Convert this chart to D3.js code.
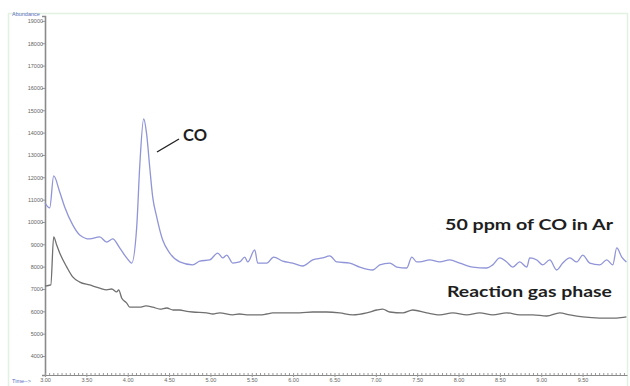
<!DOCTYPE html>
<html>
<head>
<meta charset="utf-8">
<script src="https://cdn.jsdelivr.net/npm/d3@7"></script>
<style>
  html, body { margin: 0; padding: 0; background: #fff; }
  svg { display: block; }
</style>
</head>
<body>
<svg id="chart" width="630" height="386"></svg>
<script>
// Retention time (min) and abundance for the 50 ppm CO in Ar standard
const coTime = [3.00, 3.057, 3.105, 3.178, 3.238, 3.335, 3.42, 3.54, 3.661, 3.746, 3.819, 3.903, 3.988, 4.048, 4.109, 4.145, 4.193, 4.23, 4.266, 4.302, 4.351, 4.423, 4.508, 4.629, 4.786, 4.871, 4.992, 5.088, 5.149, 5.197, 5.27, 5.354, 5.415, 5.451, 5.536, 5.572, 5.681, 5.765, 5.874, 5.995, 6.116, 6.237, 6.358, 6.443, 6.527, 6.685, 6.806, 6.963, 7.048, 7.169, 7.253, 7.374, 7.435, 7.495, 7.531, 7.652, 7.773, 7.894, 8.015, 8.172, 8.341, 8.414, 8.499, 8.583, 8.656, 8.74, 8.825, 8.861, 8.946, 9.018, 9.103, 9.187, 9.26, 9.345, 9.43, 9.502, 9.587, 9.708, 9.792, 9.865, 9.913, 9.974, 10.03];
const coAbundance = [10850, 10630, 12060, 11340, 10670, 9870, 9420, 9240, 9330, 9100, 9240, 8840, 8390, 8160, 9780, 12460, 14610, 13900, 12460, 11120, 10220, 9190, 8610, 8210, 8080, 8250, 8300, 8610, 8390, 8520, 8160, 8210, 8430, 8210, 8750, 8160, 8160, 8430, 8250, 8160, 8030, 8300, 8390, 8480, 8210, 8160, 7980, 7850, 8080, 8160, 7980, 7940, 8430, 8210, 8210, 8300, 8210, 8300, 8160, 7980, 7940, 8080, 8390, 8210, 7980, 8210, 7980, 8390, 8300, 8080, 8300, 7850, 8160, 8390, 8210, 8520, 8160, 8080, 8300, 8080, 8840, 8430, 8210];

// Retention time (min) and abundance for the reaction gas phase
const rxnTime = [3.00, 3.07, 3.105, 3.141, 3.178, 3.262, 3.335, 3.42, 3.54, 3.661, 3.746, 3.807, 3.867, 3.891, 3.927, 3.988, 4.024, 4.145, 4.22, 4.302, 4.39, 4.472, 4.55, 4.629, 4.70, 4.786, 4.955, 5.03, 5.112, 5.27, 5.35, 5.439, 5.596, 5.68, 5.753, 5.922, 6.079, 6.237, 6.406, 6.563, 6.721, 6.89, 7.011, 7.083, 7.169, 7.326, 7.447, 7.616, 7.773, 7.93, 8.10, 8.257, 8.414, 8.583, 8.74, 8.897, 9.067, 9.224, 9.345, 9.502, 9.708, 9.913, 10.03];
const rxnAbundance = [7130, 7180, 9330, 8970, 8610, 7990, 7540, 7310, 7180, 7040, 6960, 7000, 6870, 6960, 6600, 6370, 6190, 6190, 6240, 6190, 6100, 6150, 6060, 6060, 6010, 5970, 5930, 5880, 5930, 5840, 5880, 5840, 5840, 5880, 5930, 5930, 5930, 5970, 5970, 5930, 5840, 5930, 6060, 6100, 5970, 5930, 6060, 5930, 5840, 5930, 5840, 5930, 5840, 5930, 5840, 5840, 5790, 5930, 5840, 5750, 5700, 5700, 5750];

const yTicks = [4000, 5000, 6000, 7000, 8000, 9000, 10000, 11000, 12000, 13000, 14000, 15000, 16000, 17000, 18000, 19000];
const xTicks = [3.0, 3.5, 4.0, 4.5, 5.0, 5.5, 6.0, 6.5, 7.0, 7.5, 8.0, 8.5, 9.0, 9.5];
const xMinorTicks = d3.range(3.0, 10.0001, 0.05);

const svg = d3.select("#chart");

const x = d3.scaleLinear().domain([3.0, 10.037]).range([45, 627]);
const y = d3.scaleLinear().domain([3150, 19220]).range([375, 16]);

// faint outer frame of the report page
svg.append("path")
  .attr("d", "M8.5,386 V13.5 H627.5 V386")
  .attr("fill", "none")
  .attr("stroke", "#e3f1e3")
  .attr("stroke-width", 1.5);

// y axis
const yAxis = svg.append("g")
  .attr("transform", "translate(45,0)")
  .call(d3.axisLeft(y).tickValues(yTicks).tickSize(3).tickFormat(d3.format("d")));
yAxis.select(".domain").attr("stroke", "#8a8a8a").attr("stroke-width", 1.6);
yAxis.selectAll(".tick line").attr("stroke", "#999");
yAxis.selectAll("text")
  .attr("fill", "#666")
  .attr("font-family", "Liberation Sans, Arial, sans-serif")
  .attr("font-size", 5.5)
  .attr("x", -2);

// x axis: minor ticks then labelled ticks
const xMinor = svg.append("g")
  .attr("transform", "translate(0,375)")
  .call(d3.axisTop(x).tickValues(xMinorTicks).tickSize(2).tickFormat(""));
xMinor.select(".domain").remove();
xMinor.selectAll(".tick line").attr("stroke", "#9a9a9a");

const xAxis = svg.append("g")
  .attr("transform", "translate(0,375)")
  .call(d3.axisBottom(x).tickValues(xTicks).tickSize(2).tickSizeOuter(0).tickFormat(d3.format(".2f")));
xAxis.select(".domain").attr("stroke", "#8a8a8a").attr("stroke-width", 1.2);
xAxis.selectAll(".tick line").attr("stroke", "#999");
xAxis.selectAll("text")
  .attr("fill", "#666")
  .attr("font-family", "Liberation Sans, Arial, sans-serif")
  .attr("font-size", 5.5)
  .attr("dy", "0.3em");

// axis captions
svg.append("text")
  .attr("x", 12).attr("y", 16)
  .attr("fill", "#5a6fc0")
  .attr("font-family", "Liberation Sans, Arial, sans-serif")
  .attr("font-size", 5.5)
  .text("Abundance");
svg.append("text")
  .attr("x", 12).attr("y", 383)
  .attr("fill", "#5a6fc0")
  .attr("font-family", "Liberation Sans, Arial, sans-serif")
  .attr("font-size", 5.5)
  .text("Time-->");

// chromatogram traces
const line = d3.line().x(d => x(d[0])).y(d => y(d[1])).curve(d3.curveMonotoneX);

svg.append("path")
  .datum(d3.zip(rxnTime, rxnAbundance))
  .attr("d", line)
  .attr("fill", "none")
  .attr("stroke", "#6f706f")
  .attr("stroke-width", 1.3)
  .attr("stroke-linejoin", "round");

svg.append("path")
  .datum(d3.zip(coTime, coAbundance))
  .attr("d", line)
  .attr("fill", "none")
  .attr("stroke", "#9094d8")
  .attr("stroke-width", 1.3)
  .attr("stroke-linejoin", "round");

// annotations
const labelFont = "Lato, 'Open Sans', sans-serif";
svg.append("line")
  .attr("x1", 157).attr("y1", 152)
  .attr("x2", 179).attr("y2", 139)
  .attr("stroke", "#222").attr("stroke-width", 1.4);
svg.append("text")
  .attr("x", 183).attr("y", 141)
  .attr("font-family", labelFont).attr("font-weight", "bold")
  .attr("font-size", 17).attr("fill", "#1e1e1e")
  .attr("textLength", 24).attr("lengthAdjust", "spacingAndGlyphs")
  .text("CO");
svg.append("text")
  .attr("x", 445).attr("y", 230)
  .attr("font-family", labelFont).attr("font-weight", "bold")
  .attr("font-size", 16).attr("fill", "#1e1e1e")
  .attr("textLength", 168).attr("lengthAdjust", "spacingAndGlyphs")
  .text("50 ppm of CO in Ar");
svg.append("text")
  .attr("x", 447).attr("y", 297)
  .attr("font-family", labelFont).attr("font-weight", "bold")
  .attr("font-size", 16).attr("fill", "#1e1e1e")
  .attr("textLength", 165).attr("lengthAdjust", "spacingAndGlyphs")
  .text("Reaction gas phase");
</script>
</body>
</html>
